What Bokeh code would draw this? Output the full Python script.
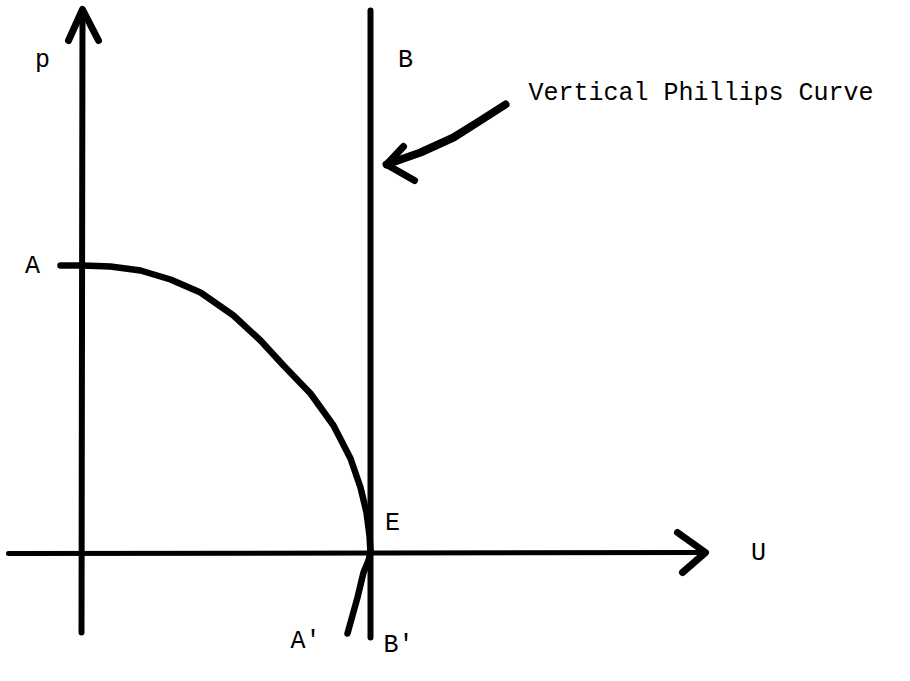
from bokeh.plotting import figure
from bokeh.models import Range1d
from bokeh.embed import file_html
from bokeh.resources import INLINE
from bokeh.core.properties import value

# --- diagram data (in picture pixel units) ---
# p axis (vertical) and its arrowhead
p_axis_x = [81, 82]
p_axis_y = [632, 10]
p_head_x = [68, 82, 98]
p_head_y = [40, 9, 40]
# U axis (horizontal) and its arrowhead
u_axis_x = [8, 704]
u_axis_y = [553, 552]
u_head_x = [677, 705, 682]
u_head_y = [532, 552, 572]
# Vertical Phillips curve B-B'
b_line_x = [370, 370]
b_line_y = [10, 637]
# Short-run curve A-E-A'
curve_x = [60, 82, 110, 140, 170, 200, 233, 260, 283, 310, 333, 350, 360, 366, 369, 370, 368, 363, 357, 347]
curve_y = [265, 265, 266, 270, 279, 292, 315, 340, 365, 393, 425, 458, 487, 512, 535, 552, 560, 572, 597, 633]
# Pointer arrow towards the vertical curve
ptr_x = [505, 480, 453, 420, 386]
ptr_y = [104, 120, 137, 152, 164]
ptr_head_x = [403, 386, 414]
ptr_head_y = [146, 164, 180]
# Labels
label_text = ["p", "B", "A", "E", "U", "A'", "B'"]
label_x = [42, 405, 32, 392, 758, 305, 398]
label_y = [60, 60, 266, 523, 553, 641, 645]
title_text = ["Vertical Phillips Curve"]
title_x = [528]
title_y = [93]

p = figure(width=894, height=665, output_backend="svg", toolbar_location=None,
           x_range=Range1d(0, 894), y_range=Range1d(665, 0),
           min_border=0, min_border_left=0, min_border_right=0,
           min_border_top=0, min_border_bottom=0)
p.axis.visible = False
p.grid.visible = False
p.outline_line_color = None
p.background_fill_color = "white"
p.border_fill_color = "white"

ink = "black"
common = dict(line_color=ink, line_cap="round", line_join="round")

p.line(p_axis_x, p_axis_y, line_width=6, **common)
p.line(p_head_x, p_head_y, line_width=7, **common)
p.line(u_axis_x, u_axis_y, line_width=5, **common)
p.line(u_head_x, u_head_y, line_width=7, **common)
p.line(b_line_x, b_line_y, line_width=6, **common)
p.line(curve_x, curve_y, line_width=6.5, **common)
p.line(ptr_x, ptr_y, line_width=8, **common)
p.line(ptr_head_x, ptr_head_y, line_width=7, **common)

p.text(x=label_x, y=label_y, text=label_text, text_font=value("Liberation Mono"),
       text_font_size="25px", text_align="center", text_baseline="middle",
       text_color=ink)
p.text(x=title_x, y=title_y, text=title_text, text_font=value("Liberation Mono"),
       text_font_size="25px", text_align="left", text_baseline="middle",
       text_color=ink)

open("out.html", "w").write(file_html(p, INLINE))
